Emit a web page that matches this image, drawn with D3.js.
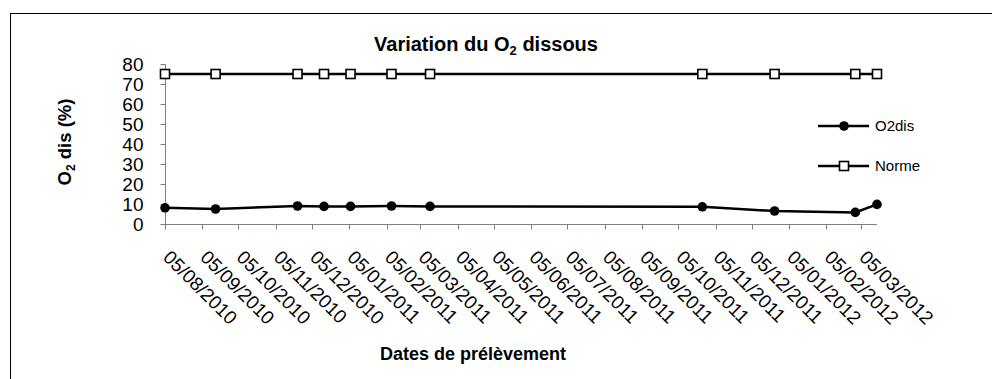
<!DOCTYPE html>
<html><head><meta charset="utf-8">
<script src="https://cdn.jsdelivr.net/npm/d3@7"></script>
<style>body{margin:0;background:#fff}svg{display:block;font-family:Arial,"Liberation Sans",sans-serif}</style>
</head><body><svg id="c" width="992" height="379"></svg>
<script>
const sampleDates = ["2010-08-05","2010-09-16","2010-11-23","2010-12-15","2011-01-06","2011-02-09","2011-03-13","2011-10-25","2011-12-24","2012-02-29","2012-03-18"];
const o2dis = [8.1, 7.5, 9.0, 8.8, 8.8, 9.0, 8.8, 8.6, 6.5, 5.8, 9.8];
const norme = [75, 75, 75, 75, 75, 75, 75, 75, 75, 75, 75];
const tickDates = ["2010-08-05","2010-09-05","2010-10-05","2010-11-05","2010-12-05","2011-01-05","2011-02-05","2011-03-05","2011-04-05","2011-05-05","2011-06-05","2011-07-05","2011-08-05","2011-09-05","2011-10-05","2011-11-05","2011-12-05","2012-01-05","2012-02-05","2012-03-05"];
const yTicks = [0,10,20,30,40,50,60,70,80];

const svg = d3.select("#c");
const parse = d3.utcParse("%Y-%m-%d");
const fmt = d3.utcFormat("%d/%m/%Y");
const dates = sampleDates.map(parse);
const ticks = tickDates.map(parse);

svg.append("rect").attr("x",10.5).attr("y",13.5).attr("width",1100).attr("height",500)
  .attr("fill","none").attr("stroke","#000").attr("stroke-width",1);

const x = d3.scaleUtc().domain([dates[0], dates[dates.length-1]]).range([165, 877]);
const y = d3.scaleLinear().domain([0,80]).range([224, 64]);

// y axis
const ya = svg.append("g").attr("transform","translate(165.5,0)");
ya.append("line").attr("y1",y(80)).attr("y2",y(0)).attr("stroke","#808080");
ya.selectAll("line.t").data(yTicks).join("line").attr("class","t")
  .attr("x1",-5).attr("x2",0).attr("y1",d=>Math.round(y(d))+0.5).attr("y2",d=>Math.round(y(d))+0.5).attr("stroke","#808080");
ya.selectAll("text").data(yTicks).join("text")
  .attr("x",-22).attr("y",d=>y(d)+7).attr("text-anchor","end")
  .attr("font-size",19).text(d=>d);

// x axis
const xa = svg.append("g").attr("transform","translate(0,224.5)");
xa.append("line").attr("x1",165).attr("x2",877).attr("stroke","#808080");
xa.selectAll("line.t").data(ticks).join("line").attr("class","t")
  .attr("x1",d=>Math.round(x(d))+0.5).attr("x2",d=>Math.round(x(d))+0.5).attr("y1",0).attr("y2",5).attr("stroke","#808080");
xa.selectAll("text").data(ticks).join("text")
  .attr("transform",d=>`translate(${x(d)-3},${34}) rotate(45)`)
  .attr("font-size",19).text(d=>fmt(d));

// lines
const line = d3.line().x((d,i)=>x(dates[i])).y(d=>y(d));
svg.append("path").attr("d",line(norme)).attr("fill","none").attr("stroke","#000").attr("stroke-width",2.5);
svg.append("path").attr("d",line(o2dis)).attr("fill","none").attr("stroke","#000").attr("stroke-width",2.5);
svg.selectAll("rect.m").data(norme).join("rect").attr("class","m")
  .attr("x",(d,i)=>x(dates[i])-4.5).attr("y",d=>y(d)-4.5).attr("width",9).attr("height",9)
  .attr("fill","#fff").attr("stroke","#000").attr("stroke-width",1.6);
svg.selectAll("circle.m").data(o2dis).join("circle").attr("class","m")
  .attr("cx",(d,i)=>x(dates[i])).attr("cy",d=>y(d)).attr("r",4.8).attr("fill","#000");

// legend
const lg = svg.append("g");
lg.append("line").attr("x1",818).attr("x2",869).attr("y1",126).attr("y2",126).attr("stroke","#000").attr("stroke-width",2.5);
lg.append("circle").attr("cx",844).attr("cy",126).attr("r",4.8).attr("fill","#000");
lg.append("text").attr("x",875).attr("y",131).attr("font-size",15).text("O2dis");
lg.append("line").attr("x1",818).attr("x2",869).attr("y1",166).attr("y2",166).attr("stroke","#000").attr("stroke-width",2.5);
lg.append("rect").attr("x",839.5).attr("y",161.5).attr("width",9).attr("height",9).attr("fill","#fff").attr("stroke","#000").attr("stroke-width",1.6);
lg.append("text").attr("x",875).attr("y",171).attr("font-size",15).text("Norme");

// titles
const t = svg.append("text").attr("x",486).attr("y",51).attr("text-anchor","middle").attr("font-size",20).attr("font-weight","bold");
t.append("tspan").text("Variation du O");
t.append("tspan").attr("font-size",13).attr("dy",4).text("2");
t.append("tspan").attr("dy",-4).text(" dissous");

const yt = svg.append("text").attr("transform","translate(71,142) rotate(-90)").attr("text-anchor","middle").attr("font-size",18.5).attr("font-weight","bold");
yt.append("tspan").text("O");
yt.append("tspan").attr("font-size",12).attr("dy",4).text("2");
yt.append("tspan").attr("dy",-4).text(" dis (%)");

svg.append("text").attr("x",473).attr("y",360).attr("text-anchor","middle").attr("font-size",18).attr("font-weight","bold").text("Dates de prélèvement");
</script></body></html>
